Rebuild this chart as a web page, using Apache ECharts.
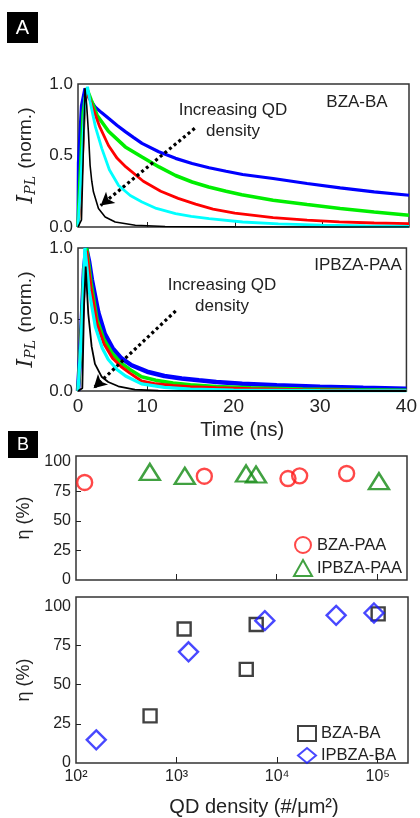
<!DOCTYPE html>
<html><head><meta charset="utf-8">
<script src="https://cdn.jsdelivr.net/npm/echarts@6/dist/echarts.min.js"></script>
<style>html,body{margin:0;padding:0;background:#fff}#c{width:420px;height:818px}</style>
</head><body><div id="c"></div>
<script>
// ---- Panel A: PL decay curves [time (ns), normalized intensity] ----
const bzaBaBlue  = [[2.0,0],[2.05,0.45],[2.4,0.85],[2.8,0.97],[3.3,0.9],[3.96,0.84],[4.7,0.8],[5.5,0.76],[6.5,0.71],[7.43,0.667],[8.4,0.625],[9.35,0.585],[11.27,0.526],[13.2,0.48],[15.1,0.444],[17.05,0.414],[19,0.39],[20.9,0.367],[24.4,0.339],[28.3,0.304],[32.1,0.274],[36,0.246],[40,0.222]];
const bzaBaGreen = [[2.0,0],[2.2,0.3],[2.6,0.8],[3.0,0.97],[3.5,0.89],[4.2,0.78],[5.5,0.67],[7.43,0.56],[9.35,0.49],[11.3,0.42],[13.2,0.36],[15.1,0.315],[17,0.28],[19,0.25],[20.8,0.225],[24.4,0.187],[28.3,0.157],[32.1,0.129],[36,0.105],[40,0.082]];
const bzaBaRed   = [[2.0,0],[2.3,0.2],[2.7,0.75],[3.0,0.96],[3.6,0.85],[4.5,0.7],[5.5,0.57],[6.5,0.48],[7.5,0.42],[9.5,0.32],[11.5,0.25],[13.5,0.2],[15.5,0.16],[17.5,0.125],[20,0.097],[24.4,0.065],[28.3,0.048],[32,0.036],[36,0.028],[40,0.023]];
const bzaBaCyan  = [[2.0,0],[2.3,0.3],[2.8,0.9],[3.1,0.98],[3.39,0.877],[4.0,0.7],[4.73,0.55],[5.6,0.4],[6.66,0.29],[8,0.22],[9.35,0.175],[11,0.13],[13.2,0.094],[15,0.075],[17.05,0.058],[20.9,0.035],[25,0.022],[30,0.013],[35,0.008],[40,0.005]];
const bzaBaBlack = [[2.0,0],[2.4,0.05],[2.6,0.5],[2.8,0.97],[3.0,0.85],[3.19,0.67],[3.39,0.43],[3.58,0.32],[3.77,0.246],[4.35,0.129],[5.12,0.07],[6.27,0.035],[8.58,0.012],[12,0.004],[20,0.001],[40,0]];

const ipbzaPaaBlue  = [[2.0,0],[2.3,0.3],[2.7,0.85],[2.95,1.0],[3.3,0.9],[3.6,0.78],[4.35,0.55],[5.1,0.40],[6.0,0.30],[7.0,0.23],[8.2,0.18],[10,0.135],[12,0.105],[14,0.088],[16,0.075],[18,0.063],[21,0.05],[25,0.04],[30,0.03],[35,0.022],[40,0.016]];
const ipbzaPaaGreen = [[2.0,0],[2.3,0.3],[2.7,0.85],[3.0,1.0],[3.5,0.76],[4.2,0.5],[5,0.36],[6,0.26],[7,0.195],[8,0.15],[9.35,0.1],[11,0.075],[13,0.055],[15,0.043],[18,0.032],[22,0.022],[28,0.013],[34,0.008],[40,0.005]];
const ipbzaPaaRed   = [[2.0,0],[2.3,0.3],[2.7,0.85],[3.0,0.98],[3.5,0.72],[4.2,0.47],[5,0.33],[6,0.23],[7,0.17],[8,0.125],[9.35,0.07],[11,0.05],[13,0.038],[15,0.03],[18,0.022],[22,0.015],[28,0.009],[34,0.006],[40,0.004]];
const ipbzaPaaCyan  = [[2.0,0],[2.4,0.4],[2.8,1.0],[3.3,0.7],[4,0.45],[4.8,0.3],[5.5,0.22],[6.5,0.15],[7.5,0.105],[9.35,0.05],[12,0.025],[15,0.013],[20,0.006],[30,0.002],[40,0.001]];
const ipbzaPaaBlack = [[2.0,0],[2.5,0.02],[2.7,0.6],[2.89,0.87],[3.19,0.54],[3.58,0.31],[3.96,0.19],[4.73,0.1],[5.5,0.063],[6.66,0.033],[8.58,0.01],[11.3,0.002],[20,0],[40,0]];

const timeTickLabels = [2, 10, 20, 30, 40];   // first label shown as "0" at the frame edge
const intensityTicks = [0, 0.5, 1.0];

// ---- Panel B: efficiency vs QD density [#/um^2, eta %] ----
const bzaPaa   = [[122,82.6],[1905,87.9],[13000,85.9],[17000,88.2],[50000,90.2]];
const ipbzaPaa = [[545,91.5],[1216,88.2],[4966,90.2],[6240,89.3],[105000,83.7]];
const bzaBa    = [[545,30.1],[1189,85.6],[4930,59.8],[6190,88.4],[101000,95.2]];
const ipbzaBa  = [[159,14.8],[1315,71.0],[7540,90.9],[38600,94.3],[91800,95.8]];
const etaTicks = [0, 25, 50, 75, 100];

const F = "'Liberation Sans', Arial, sans-serif";
const sup = {2:'\u00b2',3:'\u00b3',4:'\u2074',5:'\u2075'};

function lineSeries(name, data, color, width, xi, z) {
  return {type:'line', name, data, xAxisIndex:xi, yAxisIndex:xi, showSymbol:false,
    lineStyle:{color, width}, itemStyle:{color}, z, silent:true, clip:true};
}
function arrow(x1,y1,x2,y2){
  return {silent:true, symbol:['none','arrow'], symbolSize:[11,13], label:{show:false},
    lineStyle:{type:[3,3], width:3.2, color:'#000'},
    data:[[{coord:[x1,y1]},{coord:[x2,y2]}]]};
}
function timeAxis(gi, showLabels){
  return {type:'value', gridIndex:gi, min:2, max:40,
    axisLine:{show:false}, splitLine:{show:false},
    axisTick:{show:true, inside:true, length:5, customValues:[10,20,30], lineStyle:{color:'#222'}},
    axisLabel:{show:showLabels, customValues:timeTickLabels, formatter:v=> v<5?'0':String(v), fontSize:19, color:'#222', fontFamily:F, margin:6},
    name: showLabels?'Time (ns)':'', nameLocation:'middle', nameGap:29, nameTextStyle:{fontSize:20, color:'#222', fontFamily:F}};
}
function intAxis(gi){
  return {type:'value', gridIndex:gi, min:0, max:1,
    axisLine:{show:false}, splitLine:{show:false},
    axisTick:{show:true, inside:true, length:5, customValues:[0.5], lineStyle:{color:'#222'}},
    axisLabel:{customValues:intensityTicks, formatter:v=>v.toFixed(1), fontSize:17, color:'#222', fontFamily:F, margin:5},
    name:'{i|I}{s|PL} (norm.)', nameLocation:'middle', nameGap:40,
    nameTextStyle:{fontSize:19, color:'#222', fontFamily:F,
      rich:{i:{fontSize:22, fontStyle:'italic', fontFamily:"'DejaVu Serif', serif", color:'#222'},
            s:{fontSize:14, fontStyle:'italic', fontFamily:"'DejaVu Serif', serif", color:'#222', padding:[10,2,0,0]}}}};
}
function densAxis(gi, showLabels){
  return {type:'log', logBase:10, gridIndex:gi, min:100, max:200000,
    axisLine:{show:false}, splitLine:{show:false}, minorTick:{show:false},
    axisTick:{show:true, inside:true, length:6, customValues:[1000,10000,100000], lineStyle:{color:'#222'}},
    axisLabel:{show:showLabels, customValues:[100,1000,10000,100000], fontSize:16, color:'#222', fontFamily:F, margin:6,
      formatter:v=>'10'+sup[Math.round(Math.log10(v))]},
    name: showLabels?'QD density (#/\u03bcm\u00b2)':'', nameLocation:'middle', nameGap:34,
    nameTextStyle:{fontSize:20, color:'#222', fontFamily:F, padding:[0,0,0,24]}};
}
function etaAxis(gi, max){
  return {type:'value', gridIndex:gi, min:0, max, 
    axisLine:{show:false}, splitLine:{show:false},
    axisTick:{show:true, inside:true, length:5, customValues:[25,50,75], lineStyle:{color:'#222'}},
    axisLabel:{customValues:etaTicks, fontSize:16, color:'#222', fontFamily:F, margin:5},
    name:'\u03b7 (%)', nameLocation:'middle', nameGap:37, nameTextStyle:{fontSize:18, color:'#222', fontFamily:F}};
}
function scatter(name, data, symbol, size, color, gi){
  return {type:'scatter', name, data, xAxisIndex:gi, yAxisIndex:gi, symbol, symbolSize:size,
    itemStyle:{color:'rgba(0,0,0,0)', borderColor:color, borderWidth:2.4}, z:5};
}

const gridStyle = {show:true, borderColor:'#333', borderWidth:1.5, backgroundColor:'#fff'};
const option = {
  animation:false, backgroundColor:'#fff',
  grid:[
    Object.assign({left:78, width:331, top:84, height:143}, gridStyle),
    Object.assign({left:78, width:331, top:248, height:143}, gridStyle),
    Object.assign({left:76, width:331, top:456, height:124}, gridStyle),
    Object.assign({left:76, width:332, top:597, height:167}, gridStyle)
  ],
  xAxis:[timeAxis(0,false), timeAxis(1,true), densAxis(2,false), densAxis(3,true)],
  yAxis:[intAxis(0), intAxis(1), etaAxis(2,105), etaAxis(3,106)],
  legend:[
    {data:['BZA-PAA','IPBZA-PAA'], orient:'vertical', left:288, top:531, itemWidth:18, itemHeight:16, itemGap:5,
     textStyle:{fontSize:16.5, color:'#222', fontFamily:F}, selectedMode:false},
    {data:['BZA-BA','IPBZA-BA'], orient:'vertical', left:292, top:720, itemWidth:18, itemHeight:15, itemGap:5,
     textStyle:{fontSize:16.5, color:'#222', fontFamily:F}, selectedMode:false}
  ],
  series:[
    lineSeries('a-blue', bzaBaBlue, '#0000ff', 3.2, 0, 2),
    lineSeries('a-green', bzaBaGreen, '#00ee00', 3.6, 0, 2),
    lineSeries('a-red', bzaBaRed, '#ff0000', 2.8, 0, 2),
    lineSeries('a-cyan', bzaBaCyan, '#00ffff', 2.8, 0, 2),
    Object.assign(lineSeries('a-black', bzaBaBlack, '#000000', 1.6, 0, 3), {markLine:arrow(15.4,0.69,4.6,0.15)}),
    lineSeries('b-blue', ipbzaPaaBlue, '#0000ff', 4.5, 1, 2),
    lineSeries('b-green', ipbzaPaaGreen, '#00ee00', 3.6, 1, 2),
    lineSeries('b-red', ipbzaPaaRed, '#ff0000', 3, 1, 2),
    lineSeries('b-cyan', ipbzaPaaCyan, '#00ffff', 3.2, 1, 2),
    Object.assign(lineSeries('b-black', ipbzaPaaBlack, '#000000', 1.8, 1, 3), {markLine:arrow(13.3,0.56,3.8,0.02)}),
    scatter('BZA-PAA', bzaPaa, 'circle', 15, '#ff1a1a', 2),
    scatter('IPBZA-PAA', ipbzaPaa, 'triangle', [20,16], '#118a11', 2),
    scatter('BZA-BA', bzaBa, 'rect', 13, '#111111', 3),
    scatter('IPBZA-BA', ipbzaBa, 'diamond', [19,19], '#1a1aff', 3)
  ],
  graphic:[
    {type:'rect', left:7, top:12, shape:{width:31, height:31}, style:{fill:'#000'}},
    {type:'text', x:22.5, y:28, style:{text:'A', fill:'#fff', font:"20px 'Liberation Sans', Arial", align:'center', verticalAlign:'middle'}},
    {type:'rect', left:8, top:431, shape:{width:30, height:27}, style:{fill:'#000'}},
    {type:'text', x:23, y:445, style:{text:'B', fill:'#fff', font:"18px 'Liberation Sans', Arial", align:'center', verticalAlign:'middle'}},
    {type:'text', x:233, y:110, z:10, style:{text:'Increasing QD', fill:'#222', font:"17px 'Liberation Sans', Arial", align:'center', verticalAlign:'middle'}},
    {type:'text', x:233, y:131, z:10, style:{text:'density', fill:'#222', font:"17px 'Liberation Sans', Arial", align:'center', verticalAlign:'middle'}},
    {type:'text', x:357, y:102, z:10, style:{text:'BZA-BA', fill:'#222', font:"17px 'Liberation Sans', Arial", align:'center', verticalAlign:'middle'}},
    {type:'text', x:222, y:285, z:10, style:{text:'Increasing QD', fill:'#222', font:"17px 'Liberation Sans', Arial", align:'center', verticalAlign:'middle'}},
    {type:'text', x:222, y:306, z:10, style:{text:'density', fill:'#222', font:"17px 'Liberation Sans', Arial", align:'center', verticalAlign:'middle'}},
    {type:'text', x:358, y:265, z:10, style:{text:'IPBZA-PAA', fill:'#222', font:"17px 'Liberation Sans', Arial", align:'center', verticalAlign:'middle'}}
  ]
};
const chart = echarts.init(document.getElementById('c'), null, {renderer:'canvas'});
chart.setOption(option);
</script></body></html>
